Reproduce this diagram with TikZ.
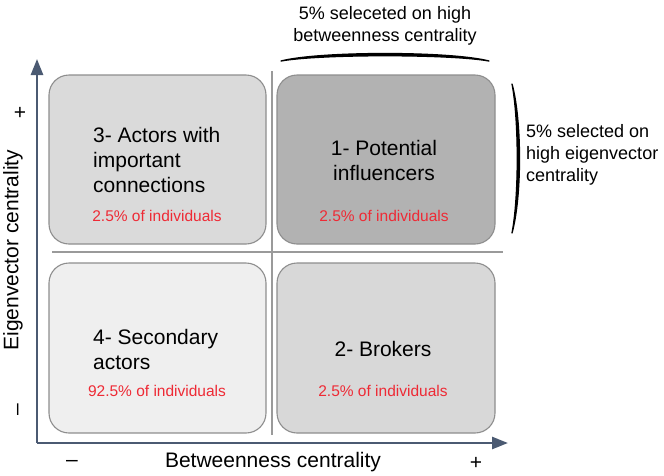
\documentclass[tikz,border=0pt]{standalone}
\usepackage{fontspec}
\setmainfont{Liberation Sans}
\usetikzlibrary{arrows.meta}
\definecolor{axiscol}{HTML}{4B5A72}
\definecolor{redtxt}{HTML}{EE2A35}
\definecolor{divcol}{HTML}{9A9A9A}
\definecolor{edgecol}{HTML}{8E8E8E}
\definecolor{fillA}{HTML}{DADADA}
\definecolor{fillB}{HTML}{B2B2B2}
\definecolor{fillC}{HTML}{EFEFEF}
\definecolor{fillD}{HTML}{D8D8D8}
\tikzset{
  quad/.style={draw=edgecol, line width=1.1pt, rounded corners=20pt},
  bigtxt/.style={font=\fontsize{21}{25}\selectfont, inner sep=0pt},
  redlab/.style={font=\fontsize{15.5}{18}\selectfont, text=redtxt, inner sep=0pt},
  sidetxt/.style={font=\fontsize{18}{22}\selectfont, inner sep=0pt},
  axislab/.style={font=\fontsize{21}{24}\selectfont, inner sep=0pt},
  axisline/.style={draw=axiscol, line width=2.6pt},
  divline/.style={draw=divcol, line width=1.3pt},
  bracecurve/.style={draw=black, fill=black, line width=1.3pt, line cap=round, line join=round}
}
\begin{document}
\begin{tikzpicture}[x=1pt,y=-1pt]
\useasboundingbox (0,0) rectangle (664,475);
% boxes
\path[quad, fill=fillA] (49,75) rectangle (266,244);
\path[quad, fill=fillB] (277,75) rectangle (495,244);
\path[quad, fill=fillC] (49,263) rectangle (266,433);
\path[quad, fill=fillD] (277,263) rectangle (495,433);
% dividers
\coordinate (vt) at (272,71);
\coordinate (vb) at (272,435);
\coordinate (hl) at (52,252);
\coordinate (hr) at (503,252);
\draw[divline] (vt) -- (vb);
\draw[divline] (hl) -- (hr);
% axes
\coordinate (org) at (37,443);
\coordinate (ytip) at (37,59);
\coordinate (xtip) at (508,443);
\draw[axisline, -{Triangle[length=16pt,width=12pt]}] (org) -- (ytip);
\draw[axisline, -{Triangle[length=16pt,width=12pt]}] (org) -- (xtip);
% texts in boxes
\node[bigtxt, anchor=west, align=left] (t3) at (93,160) {3- Actors with\\important\\connections};
\node[redlab] (r3) at (157,216) {2.5\% of individuals};
\node[bigtxt, align=center] (t1) at (384,160) {1- Potential\\influencers};
\node[redlab] (r1) at (384,216) {2.5\% of individuals};
\node[bigtxt, anchor=west, align=left] (t4) at (93,349) {4- Secondary\\actors};
\node[redlab] (r4) at (157,391) {92.5\% of individuals};
\node[bigtxt] (t2) at (383,349) {2- Brokers};
\node[redlab] (r2) at (383,391) {2.5\% of individuals};
% axis labels
\node[axislab] (xl) at (273,462) {Betweenness centrality};
\node[axislab, rotate=90] (yl) at (13,250) {Eigenvector centrality};
\node[axislab] (yp) at (20,113) {+};
\node[axislab, rotate=90] (ym) at (20,410) {\textendash};
\node[axislab] (xm) at (72,463) {\textendash};
\node[axislab] (xp) at (476,463) {+};
% braces and side labels
\coordinate (ba) at (281,61);
\coordinate (bb) at (489,61);
\path[bracecurve] (ba) .. controls (320,51) and (450,51) .. (bb)
   .. controls (450,54) and (320,54) .. (ba) -- cycle;
\node[sidetxt, align=center] (topl) at (385,26) {5\% seleceted on high\\betweenness centrality};
\coordinate (ra) at (512,84);
\coordinate (rb) at (512,233);
\path[bracecurve] (ra) .. controls (522,120) and (522,197) .. (rb)
   .. controls (519,197) and (519,120) .. (ra) -- cycle;
\node[sidetxt, anchor=west, align=left] (rightl) at (526,155) {5\% selected on\\high eigenvector\\centrality};
\end{tikzpicture}
\end{document}
